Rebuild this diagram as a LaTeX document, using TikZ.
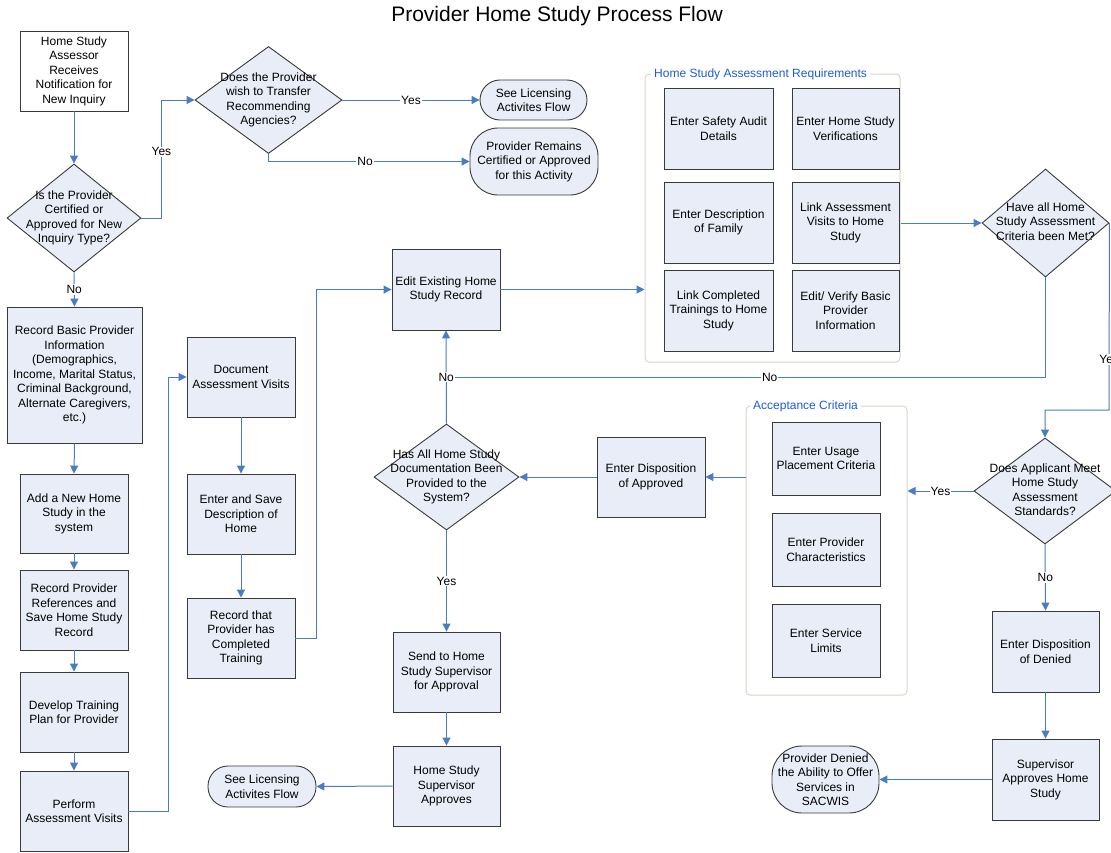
\documentclass[tikz,border=0pt]{standalone}
\usepackage{fontspec}
\setmainfont{Liberation Sans}
\usetikzlibrary{arrows.meta,shapes.geometric}
\definecolor{boxfill}{HTML}{E8EDF7}
\definecolor{boxline}{HTML}{3A3A3A}
\definecolor{flowblue}{HTML}{4A7CC4}
\definecolor{grpline}{HTML}{D6D6CA}
\definecolor{grptext}{HTML}{1F5BD6}
% text block that does not enlarge its (diamond) node
\newcommand{\dtext}[1]{\raisebox{-3pt}[0pt][0pt]{\makebox[0pt]{\begin{tabular}{@{}c@{}}#1\end{tabular}}}}
\begin{document}
\begin{tikzpicture}[x=1pt,y=-1pt,
  every node/.style={font=\fontsize{12}{14.5}\selectfont, align=center, inner sep=1pt},
  proc/.style={draw=boxline, fill=boxfill, line width=0.9pt, minimum width=108, minimum height=80},
  term/.style={draw=boxline, fill=boxfill, line width=0.9pt, rounded corners=#1},
  dec/.style={draw=boxline, fill=boxfill, line width=0.9pt, diamond, inner sep=0pt},
  flow/.style={draw=flowblue, line width=1pt, -{Triangle[length=8pt,width=8pt]}},
  link/.style={draw=flowblue, line width=1pt},
  lbl/.style={fill=white, inner sep=1pt, text=black},
  grp/.style={draw=grpline, line width=1pt, rounded corners=4pt},
  grplbl/.style={fill=white, text=grptext, inner sep=3pt, anchor=west}]
\useasboundingbox (0,0) rectangle (1111,852);

\node (title) at (557,16) {\fontsize{21}{25}\selectfont Provider Home Study Process Flow};

% groups
\node[grp, minimum width=255, minimum height=288] (grp1) at (772.5,218) {};
\node[grplbl] (grp1lbl) at (651,74) {Home Study Assessment Requirements};
\node[grp, minimum width=161, minimum height=289] (grp2) at (826.5,550.5) {};
\node[grplbl] (grp2lbl) at (750,406) {Acceptance Criteria};

% left column
\node[proc, fill=white] (start) at (74,71) {Home Study\\Assessor\\Receives\\Notification for\\New Inquiry};
\node[dec, minimum width=134, minimum height=108] (d1) at (74,218) {\dtext{Is the Provider\\Certified or\\Approved for New\\Inquiry Type?}};
\node[dec, minimum width=147, minimum height=107] (d2) at (268.5,100) {\dtext{Does the Provider\\wish to Transfer\\Recommending\\Agencies?}};
\node[term=20pt, minimum width=107, minimum height=40] (t1) at (533.5,100) {See Licensing\\Activites Flow};
\node[term=28pt, minimum width=128, minimum height=67] (t2) at (534,161.5) {Provider Remains\\Certified or Approved\\for this Activity};
\node[proc, minimum width=135, minimum height=136] (b2) at (74.5,375) {Record Basic Provider\\Information\\(Demographics,\\Income, Marital Status,\\Criminal Background,\\Alternate Caregivers,\\etc.)};
\node[proc, minimum height=79] (b3) at (74,513.5) {Add a New Home\\Study in the\\system};
\node[proc] (b4) at (74,610) {Record Provider\\References and\\Save Home Study\\Record};
\node[proc] (b5) at (74,712) {Develop Training\\Plan for Provider};
\node[proc] (b6) at (74,811) {Perform\\Assessment Visits};

% second column
\node[proc] (b7) at (241,377) {Document\\Assessment Visits};
\node[proc] (b8) at (241,514) {Enter and Save\\Description of\\Home};
\node[proc] (b9) at (241,638) {Record that\\Provider has\\Completed\\Training};

% centre
\node[proc, minimum height=81] (b10) at (446,289.5) {Edit Existing Home\\Study Record};
\node[dec, minimum width=145, minimum height=106] (d4) at (446.5,477) {\dtext{Has All Home Study\\Documentation Been\\Provided to the\\System?}};
\node[proc] (b13) at (651,477) {Enter Disposition\\of Approved};
\node[proc, minimum width=107] (b14) at (446.5,672) {Send to Home\\Study Supervisor\\for Approval};
\node[proc, minimum width=107] (b15) at (446.5,786) {Home Study\\Supervisor\\Approves};
\node[term=20pt, minimum width=108, minimum height=41] (t4) at (262,786.5) {See Licensing\\Activites Flow};

% assessment requirements
\node[proc, minimum width=109, minimum height=81] (g1a) at (718.5,128.5) {Enter Safety Audit\\Details};
\node[proc, minimum width=107, minimum height=81] (g1b) at (845.5,128.5) {Enter Home Study\\Verifications};
\node[proc, minimum width=109, minimum height=81] (g1c) at (718.5,222.5) {Enter Description\\of Family};
\node[proc, minimum width=107, minimum height=81] (g1d) at (845.5,222.5) {Link Assessment\\Visits to Home\\Study};
\node[proc, minimum width=109, minimum height=81] (g1e) at (718.5,310.5) {Link Completed\\Trainings to Home\\Study};
\node[proc, minimum width=107, minimum height=81] (g1f) at (845.5,310.5) {Edit/ Verify Basic\\Provider\\Information};

% acceptance criteria
\node[proc, minimum height=73] (g2a) at (826,458.5) {Enter Usage\\Placement Criteria};
\node[proc, minimum height=73] (g2b) at (826,549.5) {Enter Provider\\Characteristics};
\node[proc, minimum height=73] (g2c) at (826,640.5) {Enter Service\\Limits};

% right column
\node[dec, minimum width=127, minimum height=108] (d3) at (1045.5,223) {\dtext{Have all Home\\Study Assessment\\Criteria been Met?}};
\node[dec, minimum width=142, minimum height=106] (d5) at (1045,491) {\dtext{Does Applicant Meet\\Home Study\\Assessment\\Standards?}};
\node[proc, minimum width=107, minimum height=81] (b11) at (1045.5,651.5) {Enter Disposition\\of Denied};
\node[proc, minimum width=107, minimum height=81] (b12) at (1045.5,779.5) {Supervisor\\Approves Home\\Study};
\node[term=30pt, minimum width=107, minimum height=67] (t3) at (825.5,779.5) {Provider Denied\\the Ability to Offer\\Services in\\SACWIS};

\coordinate (nojoin) at (446,377);
\coordinate (yturn) at (1109,410);

% connectors
\draw[flow] (start.south) -- (d1.north);
\draw[flow] (d1.east) -- ++(20,0) |- node[lbl,pos=0.28] (l1) {Yes} (d2.west);
\draw[flow] (d2.east) -- node[lbl] (l2) {Yes} (t1.west);
\draw[flow] (d2.south) |- node[lbl,pos=0.74] (l3) {No} (t2.west);
\draw[flow] (d1.south) -- node[lbl] (l4) {No} (b2.north);
\draw[flow] (b2.south) -- (b3.north);
\draw[flow] (b3.south) -- (b4.north);
\draw[flow] (b4.south) -- (b5.north);
\draw[flow] (b5.south) -- (b6.north);
\draw[flow] (b6.east) -- ++(40,0) |- (b7.west);
\draw[flow] (b7.south) -- (b8.north);
\draw[flow] (b8.south) -- (b9.north);
\draw[flow] (b9.east) -- ++(21,0) |- (b10.west);
\draw[flow] (b10.east) -- (b10.east -| grp1.west);
\draw[flow] (d3.west -| grp1.east) -- (d3.west);
\draw[link] (d3.south) |- node[lbl,pos=0.73] (l5) {No} (nojoin);
\draw[flow] (d4.north) -- node[lbl] (l6) {No} (b10.south);
\draw[flow] (d3.east) -- node[lbl,pos=0.73] (l7) {Yes} (yturn) -| (d5.north);
\draw[flow] (d5.west) -- node[lbl] (l8) {Yes} (d5.west -| grp2.east);
\draw[flow] (d5.south) -- node[lbl] (l9) {No} (b11.north);
\draw[flow] (b11.south) -- (b12.north);
\draw[flow] (b12.west) -- (t3.east);
\draw[flow] (grp2.west |- b13.east) -- (b13.east);
\draw[flow] (b13.west) -- (d4.east);
\draw[flow] (d4.south) -- node[lbl] (l10) {Yes} (b14.north);
\draw[flow] (b14.south) -- (b15.north);
\draw[flow] (b15.west) -- (t4.east);
\end{tikzpicture}
\end{document}
